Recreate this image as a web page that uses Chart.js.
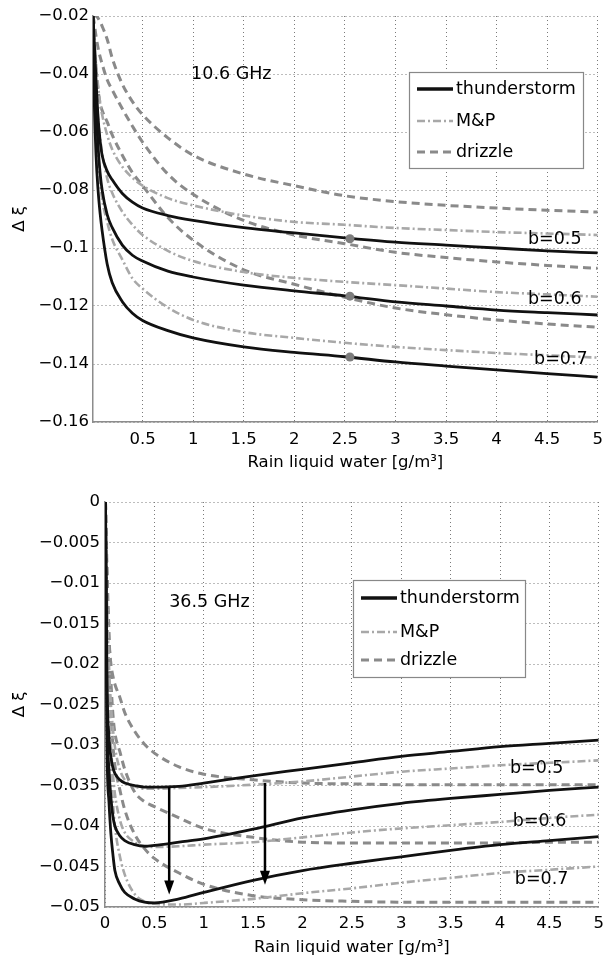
<!DOCTYPE html>
<html>
<head>
<meta charset="utf-8">
<script src="https://cdn.jsdelivr.net/npm/chart.js@4.4.1/dist/chart.umd.min.js"></script>
<style>
  body { margin: 0; background: #fff; }
  .panel { position: absolute; left: 0; }
  #top { top: 0; }
  #bot { top: 480px; }
</style>
</head>
<body>
<div class="panel" id="top"><canvas id="topChart" width="611" height="480"></canvas></div>
<div class="panel" id="bot"><canvas id="botChart" width="611" height="479"></canvas></div>
<script>
// ===== DATA: 10.6 GHz =====
const topX = [0.01, 0.02, 0.04, 0.06, 0.08, 0.1, 0.15, 0.2, 0.3, 0.4, 0.5, 0.75, 1, 1.5, 2, 2.5, 3, 3.5, 4, 4.5, 5];
const topThunder05 = [-0.02, -0.027, -0.042, -0.055, -0.063, -0.068, -0.0735, -0.0765, -0.0812, -0.0842, -0.0862, -0.0888, -0.0905, -0.093, -0.0948, -0.0965, -0.098, -0.099, -0.100, -0.101, -0.1017];
const topThunder06 = [-0.02, -0.035, -0.052, -0.065, -0.074, -0.08, -0.0885, -0.093, -0.099, -0.1025, -0.1045, -0.108, -0.110, -0.1128, -0.1148, -0.1165, -0.1186, -0.12, -0.1214, -0.1223, -0.1231];
const topThunder07 = [-0.02, -0.045, -0.068, -0.08, -0.088, -0.094, -0.1055, -0.112, -0.1185, -0.1225, -0.125, -0.1285, -0.131, -0.1341, -0.136, -0.1375, -0.1393, -0.1407, -0.142, -0.1433, -0.1445];
const topMP05 = [-0.02, -0.026, -0.036, -0.044, -0.05, -0.054, -0.061, -0.066, -0.072, -0.0758, -0.0785, -0.0828, -0.0853, -0.0888, -0.091, -0.092, -0.0931, -0.0938, -0.0945, -0.095, -0.0955];
const topMP06 = [-0.02, -0.03, -0.045, -0.055, -0.062, -0.067, -0.076, -0.081, -0.0875, -0.092, -0.0955, -0.101, -0.1045, -0.1083, -0.1103, -0.1117, -0.1128, -0.114, -0.1152, -0.116, -0.1168];
const topMP07 = [-0.02, -0.035, -0.055, -0.068, -0.077, -0.083, -0.091, -0.097, -0.104, -0.1105, -0.114, -0.1205, -0.1248, -0.129, -0.131, -0.1327, -0.1341, -0.1352, -0.1362, -0.137, -0.1378];
const topDrizzle05 = [-0.02, -0.02, -0.02, -0.0207, -0.022, -0.0235, -0.028, -0.0345, -0.0435, -0.0495, -0.054, -0.062, -0.068, -0.0745, -0.0785, -0.082, -0.084, -0.0853, -0.0862, -0.087, -0.0876];
const topDrizzle06 = [-0.02, -0.022, -0.027, -0.031, -0.034, -0.0365, -0.042, -0.0455, -0.052, -0.058, -0.0635, -0.0745, -0.0815, -0.0905, -0.0955, -0.0985, -0.1015, -0.1033, -0.1048, -0.106, -0.107];
const topDrizzle07 = [-0.02, -0.027, -0.038, -0.0455, -0.05, -0.0525, -0.0565, -0.061, -0.068, -0.074, -0.0785, -0.0895, -0.0973, -0.1075, -0.1125, -0.117, -0.1207, -0.123, -0.1248, -0.1262, -0.1273];
const topMarkX = [2.55, 2.55, 2.55];
const topMarkY = [-0.0968, -0.1166, -0.1376];
const topXTicks = [0.5, 1, 1.5, 2, 2.5, 3, 3.5, 4, 4.5, 5];
const topXLabels = ['0.5', '1', '1.5', '2', '2.5', '3', '3.5', '4', '4.5', '5'];
const topYTicks = [-0.16, -0.14, -0.12, -0.1, -0.08, -0.06, -0.04, -0.02];
const topYLabels = ['\u22120.16', '\u22120.14', '\u22120.12', '\u22120.1', '\u22120.08', '\u22120.06', '\u22120.04', '\u22120.02'];
const topNotes = ['10.6 GHz', 'b=0.5', 'b=0.6', 'b=0.7'];
const topNoteX = [0.98, 4.31, 4.31, 4.37];
const topNoteY = [-0.04, -0.0972, -0.1176, -0.1386];

// ===== DATA: 36.5 GHz =====
const botX = [0.005, 0.02, 0.04, 0.06, 0.08, 0.1, 0.15, 0.2, 0.3, 0.4, 0.5, 0.75, 1, 1.5, 2, 2.5, 3, 3.5, 4, 4.5, 5];
const botThunder05 = [0, -0.022, -0.029, -0.0315, -0.0328, -0.0335, -0.0343, -0.0347, -0.035, -0.0352, -0.0352, -0.0351, -0.0347, -0.0338, -0.033, -0.0322, -0.0314, -0.0308, -0.0302, -0.0298, -0.0294];
const botThunder06 = [0, -0.026, -0.033, -0.0365, -0.0388, -0.04, -0.0412, -0.0418, -0.0423, -0.0425, -0.0424, -0.042, -0.0416, -0.0404, -0.039, -0.038, -0.0372, -0.0366, -0.0361, -0.0356, -0.0352];
const botThunder07 = [0, -0.03, -0.037, -0.041, -0.0435, -0.0455, -0.0472, -0.0482, -0.049, -0.0494, -0.0495, -0.049, -0.0482, -0.0467, -0.0455, -0.0446, -0.0438, -0.043, -0.0423, -0.0418, -0.0413];
const botMP05 = [0, -0.012, -0.02, -0.025, -0.028, -0.0302, -0.033, -0.0343, -0.0351, -0.0354, -0.0354, -0.0353, -0.0352, -0.0349, -0.0345, -0.0339, -0.0333, -0.0329, -0.0325, -0.0322, -0.0319];
const botMP06 = [0, -0.015, -0.024, -0.03, -0.0335, -0.036, -0.0392, -0.0408, -0.042, -0.0425, -0.0426, -0.0425, -0.0423, -0.042, -0.0414, -0.0408, -0.0403, -0.0399, -0.0395, -0.039, -0.0386];
const botMP07 = [0, -0.018, -0.027, -0.033, -0.037, -0.04, -0.0437, -0.046, -0.0484, -0.0493, -0.0496, -0.0497, -0.0495, -0.049, -0.0483, -0.0477, -0.047, -0.0464, -0.0458, -0.0454, -0.045];
const botDrizzle05 = [0, -0.01, -0.017, -0.02, -0.0215, -0.0225, -0.0241, -0.026, -0.0283, -0.0299, -0.031, -0.0327, -0.0336, -0.0343, -0.0347, -0.0348, -0.0349, -0.0349, -0.0349, -0.0349, -0.0349];
const botDrizzle06 = [0, -0.008, -0.016, -0.022, -0.0262, -0.0285, -0.0308, -0.033, -0.0358, -0.037, -0.0376, -0.039, -0.0403, -0.0414, -0.042, -0.0421, -0.0421, -0.0421, -0.0421, -0.042, -0.042];
const botDrizzle07 = [0, -0.01, -0.02, -0.026, -0.03, -0.0325, -0.0355, -0.038, -0.041, -0.0428, -0.044, -0.0458, -0.0472, -0.0486, -0.0491, -0.0493, -0.0494, -0.0494, -0.0494, -0.0494, -0.0494];
const botArrowX = [0.65, 1.62];
const botArrowFrom = [-0.0352, -0.0347];
const botArrowTo = [-0.0482, -0.0470];
const botXTicks = [0, 0.5, 1, 1.5, 2, 2.5, 3, 3.5, 4, 4.5, 5];
const botXLabels = ['0', '0.5', '1', '1.5', '2', '2.5', '3', '3.5', '4', '4.5', '5'];
const botYTicks = [-0.05, -0.045, -0.04, -0.035, -0.03, -0.025, -0.02, -0.015, -0.01, -0.005, 0];
const botYLabels = ['\u22120.05', '\u22120.045', '\u22120.04', '\u22120.035', '\u22120.03', '\u22120.025', '\u22120.02', '\u22120.015', '\u22120.01', '\u22120.005', '0'];
const botNotes = ['36.5 GHz', 'b=0.5', 'b=0.6', 'b=0.7'];
const botNoteX = [0.65, 4.1, 4.13, 4.15];
const botNoteY = [-0.01235, -0.03284, -0.0395, -0.04654];

const legendNames = ['thunderstorm', 'M&P', 'drizzle'];

// ===== STYLES =====
const FONT = "'DejaVu Sans', sans-serif";
Chart.defaults.font.family = FONT;
Chart.defaults.font.size = 16.5;
Chart.defaults.color = '#000';

const STYLE = {
  thunder: { borderColor: '#111', borderWidth: 2.8, borderDash: [] },
  mp: { borderColor: '#a8a8a8', borderWidth: 2.6, borderDash: [8, 3, 2, 3] },
  drizzle: { borderColor: '#8a8a8a', borderWidth: 3, borderDash: [8, 5] },
};

const pts = (xs, ys) => xs.map((x, i) => ({ x: x, y: ys[i] }));

function curve(xs, ys, kind) {
  return Object.assign({
    type: 'line',
    data: pts(xs, ys),
    pointRadius: 0,
    fill: false,
    cubicInterpolationMode: 'monotone',
  }, STYLE[kind]);
}

// ===== OVERLAY: notes, arrowheads, legend =====
const overlay = {
  id: 'overlay',
  afterDatasetsDraw(chart, args, o) {
    const { ctx, scales: { x, y } } = chart;
    ctx.save();
    ctx.fillStyle = '#000';
    ctx.font = '17.5px ' + FONT;
    ctx.textAlign = 'left';
    ctx.textBaseline = 'middle';
    o.notes.forEach((t, i) => {
      ctx.fillText(t, x.getPixelForValue(o.noteX[i]), y.getPixelForValue(o.noteY[i]));
    });

    // arrowheads
    (o.arrowX || []).forEach((ax, i) => {
      const px = x.getPixelForValue(ax);
      const py = y.getPixelForValue(o.arrowTo[i]);
      ctx.beginPath();
      ctx.moveTo(px, py + 2);
      ctx.lineTo(px - 5, py - 12);
      ctx.lineTo(px + 5, py - 12);
      ctx.closePath();
      ctx.fill();
    });

    // legend box
    const L = o.legend;
    ctx.fillStyle = '#fff';
    ctx.fillRect(L.x, L.y, L.w, L.h);
    ctx.strokeStyle = '#888';
    ctx.lineWidth = 1.2;
    ctx.strokeRect(L.x + 0.5, L.y + 0.5, L.w, L.h);
    const kinds = ['thunder', 'mp', 'drizzle'];
    legendNames.forEach((name, i) => {
      const s = STYLE[kinds[i]];
      const ly = L.y + L.rows[i];
      ctx.beginPath();
      ctx.setLineDash(s.borderDash);
      ctx.strokeStyle = s.borderColor;
      ctx.lineWidth = i === 0 ? 3.5 : s.borderWidth;
      ctx.moveTo(L.x + 8, ly);
      ctx.lineTo(L.x + 44, ly);
      ctx.stroke();
      ctx.setLineDash([]);
      ctx.fillStyle = '#000';
      ctx.fillText(name, L.x + 47, ly);
    });
    ctx.restore();
  }
};

function axes(xmin, xmax, ymin, ymax, xt, xl, yt, yl, yw, xh, xpad, ypad, tpad) {
  const grid = { color: '#7a7a7a', lineWidth: 1, drawTicks: false };
  const border = { color: '#8c8c8c', width: 1.5, dash: [1, 3] };
  return {
    x: {
      type: 'linear', min: xmin, max: xmax,
      afterBuildTicks: s => { s.ticks = xt.map(v => ({ value: v })); },
      afterFit: s => { s.height = xh; },
      ticks: { callback: (v, i) => xl[i], autoSkip: false, maxRotation: 0, padding: xpad },
      grid: grid, border: border,
      title: { display: true, text: 'Rain liquid water [g/m\u00b3]', padding: { top: 0, bottom: tpad } },
    },
    y: {
      type: 'linear', min: ymin, max: ymax,
      afterBuildTicks: s => { s.ticks = yt.map(v => ({ value: v })); },
      afterFit: s => { s.width = yw; },
      ticks: { callback: (v, i) => yl[i], autoSkip: false, padding: ypad },
      grid: grid, border: border,
      title: { display: true, text: '\u0394 \u03be', padding: { top: 10, bottom: 0 } },
    },
  };
}

// ===== TOP CHART: 10.6 GHz =====
new Chart(document.getElementById('topChart'), {
  type: 'line',
  data: {
    datasets: [
      { type: 'scatter', data: pts(topMarkX, topMarkY), pointRadius: 4.5, pointBackgroundColor: '#7d7d7d', pointBorderWidth: 0, showLine: false },
      curve(topX, topThunder05, 'thunder'),
      curve(topX, topThunder06, 'thunder'),
      curve(topX, topThunder07, 'thunder'),
      curve(topX, topMP05, 'mp'),
      curve(topX, topMP06, 'mp'),
      curve(topX, topMP07, 'mp'),
      curve(topX, topDrizzle05, 'drizzle'),
      curve(topX, topDrizzle06, 'drizzle'),
      curve(topX, topDrizzle07, 'drizzle'),
    ]
  },
  options: {
    responsive: false,
    animation: false,
    layout: { padding: { top: 16, right: 6, left: 0, bottom: 0 } },
    plugins: {
      legend: { display: false },
      tooltip: { enabled: false },
      overlay: {
        notes: topNotes, noteX: topNoteX, noteY: topNoteY,
        legend: { x: 409, y: 72, w: 174, h: 96, rows: [17, 49, 80] },
      },
    },
    scales: axes(0.01, 5, -0.16, -0.02, topXTicks, topXLabels, topYTicks, topYLabels, 93, 58, 8, 4, 7),
  },
  plugins: [overlay],
});

// ===== BOTTOM CHART: 36.5 GHz =====
const arrowSets = botArrowX.map((ax, i) => ({
  type: 'line',
  data: [{ x: ax, y: botArrowFrom[i] }, { x: ax, y: botArrowTo[i] + 0.0012 }],
  borderColor: '#000', borderWidth: 2.5, pointRadius: 0, tension: 0,
}));

new Chart(document.getElementById('botChart'), {
  type: 'line',
  data: {
    datasets: [
      ...arrowSets,
      curve(botX, botThunder05, 'thunder'),
      curve(botX, botThunder06, 'thunder'),
      curve(botX, botThunder07, 'thunder'),
      curve(botX, botMP05, 'mp'),
      curve(botX, botMP06, 'mp'),
      curve(botX, botMP07, 'mp'),
      curve(botX, botDrizzle05, 'drizzle'),
      curve(botX, botDrizzle06, 'drizzle'),
      curve(botX, botDrizzle07, 'drizzle'),
    ]
  },
  options: {
    responsive: false,
    animation: false,
    layout: { padding: { top: 22, right: 6, left: 0, bottom: 0 } },
    plugins: {
      legend: { display: false },
      tooltip: { enabled: false },
      overlay: {
        notes: botNotes, noteX: botNoteX, noteY: botNoteY,
        arrowX: botArrowX, arrowTo: botArrowTo,
        legend: { x: 353, y: 100, w: 172, h: 97, rows: [18, 52, 80] },
      },
    },
    scales: axes(0, 5, -0.05, 0, botXTicks, botXLabels, botYTicks, botYLabels, 105, 52, 7, 5, 1),
  },
  plugins: [overlay],
});
</script>
</body>
</html>
